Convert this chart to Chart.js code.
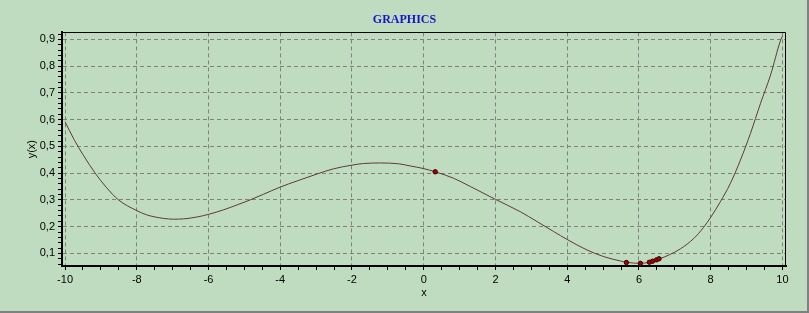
<!DOCTYPE html>
<html><head><meta charset="utf-8">
<script src="https://cdn.jsdelivr.net/npm/chart.js@4.4.1/dist/chart.umd.min.js"></script>
<style>html,body{margin:0;padding:0;background:#C0DCC0;overflow:hidden}canvas{display:block}</style>
</head><body>
<canvas id="c" width="809" height="313"></canvas>
<script>
// ---- data ----
const curveX = [-10, -9.75, -9.5, -9.16, -8.85, -8.51, -8.0, -7.72, -7.26, -6.98, -6.70, -6.33, -6.0, -5.58, -5.21, -4.84, -4.47, -4.0, -3.53, -2.97, -2.52, -2.0, -1.68, -1.21, -0.70, -0.38, 0.0, 0.32, 0.83, 1.30, 2.0, 2.69, 3.16, 3.62, 4.0, 4.55, 5.02, 5.48, 5.65, 6.04, 6.29, 6.56, 6.85, 7.155, 7.53, 7.80, 8.0, 8.27, 8.55, 8.83, 9.11, 9.39, 9.67, 9.95, 10.0];
const curveY = [0.592, 0.526, 0.469, 0.400, 0.347, 0.300, 0.260, 0.244, 0.231, 0.228, 0.229, 0.236, 0.246, 0.263, 0.281, 0.300, 0.321, 0.348, 0.371, 0.397, 0.416, 0.430, 0.436, 0.438, 0.435, 0.427, 0.417, 0.405, 0.381, 0.350, 0.302, 0.256, 0.219, 0.182, 0.152, 0.113, 0.088, 0.072, 0.067, 0.063, 0.067, 0.079, 0.095, 0.117, 0.156, 0.197, 0.235, 0.293, 0.362, 0.449, 0.549, 0.661, 0.767, 0.897, 0.912];
const markerX = [0.32, 5.65, 6.04, 6.29, 6.38, 6.49, 6.56];
const markerY = [0.405, 0.066, 0.063, 0.067, 0.071, 0.076, 0.080];
const xTickValues = [-10, -8, -6, -4, -2, 0, 2, 4, 6, 8, 10];
const yTickValues = [0.1, 0.2, 0.3, 0.4, 0.5, 0.6, 0.7, 0.8, 0.9];
const chartTitle = 'GRAPHICS';
const xAxisTitle = 'x';
const yAxisTitle = 'y(x)';

// minor tick positions (tick marks only)
const xMinorStep = 0.5, yMinorStep = 0.02;
const xAll = []; for (let v = -10; v <= 10 + 1e-9; v += xMinorStep) xAll.push(Math.round(v * 100) / 100);
const yAll = []; for (let v = 0.06; v <= 0.92 + 1e-9; v += yMinorStep) yAll.push(Math.round(v * 100) / 100);
const isMajorX = v => xTickValues.some(t => Math.abs(t - v) < 1e-6);
const isMajorY = v => yTickValues.some(t => Math.abs(t - v) < 1e-6);

const labelFont = {family: 'Liberation Sans', size: 11};
const gridColor = '#808080';

const framePlugin = {
  id: 'frame',
  afterDraw(chart) {
    const {ctx, chartArea: a} = chart;
    ctx.save();
    ctx.strokeStyle = '#000'; ctx.lineWidth = 1;
    const t = Math.round(a.top) + 0.5, r = Math.round(a.right) - 0.5;
    ctx.beginPath();
    ctx.moveTo(a.left, t); ctx.lineTo(r, t); ctx.lineTo(r, a.bottom);
    ctx.stroke();
    ctx.fillStyle = '#808080';
    ctx.fillRect(0, chart.height - 2, chart.width, 2);
    ctx.fillRect(chart.width - 2, 0, 2, chart.height);
    ctx.restore();
  }
};

new Chart(document.getElementById('c'), {
  type: 'scatter',
  data: {
    datasets: [
      {
        type: 'line',
        data: curveX.map((x, i) => ({x, y: curveY[i]})),
        borderColor: '#5c3a36', borderWidth: 1,
        pointRadius: 0, fill: false,
        cubicInterpolationMode: 'monotone',
        order: 2
      },
      {
        type: 'scatter',
        data: markerX.map((x, i) => ({x, y: markerY[i]})),
        pointRadius: 2.2, pointBackgroundColor: '#a00000', pointBorderColor: '#3a0000', pointBorderWidth: 1,
        order: 1
      }
    ]
  },
  options: {
    responsive: false, animation: false, devicePixelRatio: 1,
    layout: {padding: 0},
    plugins: {
      legend: {display: false}, tooltip: {enabled: false},
      title: {
        display: true, text: chartTitle, color: '#1414c8',
        font: {family: 'Liberation Serif', size: 12, weight: 'bold'},
        padding: {top: 13, bottom: 5}
      }
    },
    scales: {
      x: {
        type: 'linear', min: -10.085, max: 10.1,
        afterBuildTicks: s => { s.ticks = xAll.map(v => ({value: v})); },
        afterFit: s => { s.height = 47; s.paddingLeft = 0; s.paddingRight = 0; },
        ticks: {autoSkip: false, maxRotation: 0, padding: 3, color: '#000', font: labelFont,
          callback: v => isMajorX(v) ? String(v) : ''},
        grid: {color: c => (c.tick && isMajorX(c.tick.value)) ? gridColor : 'rgba(0,0,0,0)',
          tickColor: '#000', tickLength: 4, lineWidth: 1},
        border: {display: true, color: '#000', width: 2, dash: [4, 3]},
        title: {display: true, text: xAxisTitle, color: '#000', font: labelFont, padding: {top: 0, bottom: 13}}
      },
      y: {
        type: 'linear', min: 0.053, max: 0.926,
        afterBuildTicks: s => { s.ticks = yAll.map(v => ({value: v})); },
        afterFit: s => { s.width = 62; s.paddingTop = 0; s.paddingBottom = 0; },
        ticks: {autoSkip: false, padding: 3, color: '#000', font: labelFont,
          callback: v => isMajorY(v) ? v.toFixed(1).replace('.', ',') : ''},
        grid: {color: c => (c.tick && isMajorY(c.tick.value)) ? gridColor : 'rgba(0,0,0,0)',
          tickColor: '#000', tickLength: 4, lineWidth: 1},
        border: {display: true, color: '#000', width: 2, dash: [4, 3]},
        title: {display: true, text: yAxisTitle, color: '#000', font: labelFont, padding: {top: 25, bottom: 0}}
      },
      yRight: {
        type: 'linear', position: 'right', display: true,
        min: 0.053, max: 0.926,
        afterFit: s => { s.width = 23; s.paddingTop = 0; s.paddingBottom = 0; },
        ticks: {display: false},
        grid: {display: false, drawOnChartArea: false},
        border: {display: false}
      }
    }
  },
  plugins: [framePlugin]
});
</script>
</body></html>
